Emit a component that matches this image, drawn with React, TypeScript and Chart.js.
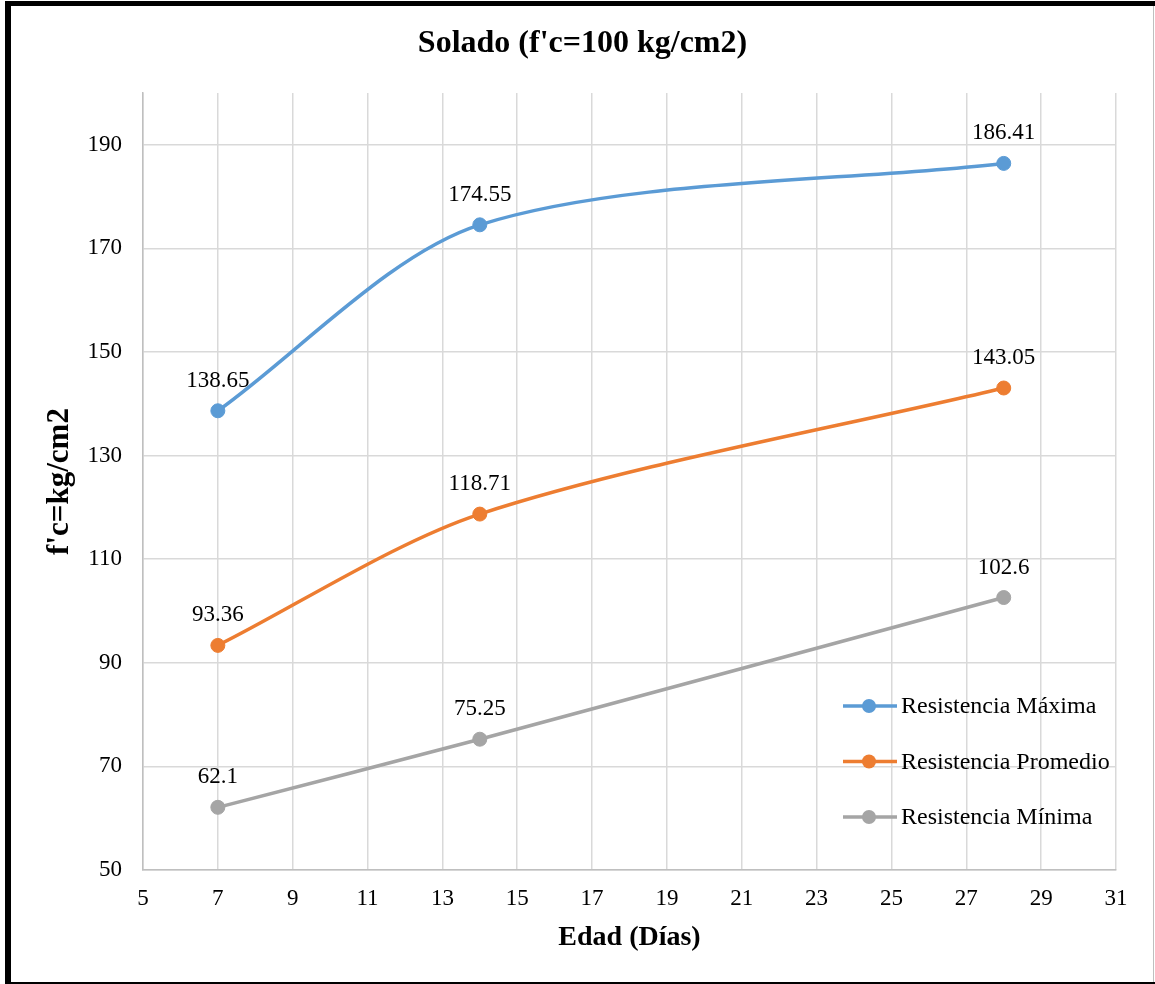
import React, { useEffect, useRef } from "react";
import { Chart, registerables } from "chart.js";

Chart.register(...registerables);

// Ages (days) at which the cylinders were tested
const edades = [7, 14, 28];

// Compressive strength per series (kg/cm2)
const resistenciaMaxima = [138.65, 174.55, 186.41];
const resistenciaPromedio = [93.36, 118.71, 143.05];
const resistenciaMinima = [62.1, 75.25, 102.6];

const seriesNames = ["Resistencia Máxima", "Resistencia Promedio", "Resistencia Mínima"];
const seriesColors = ["#5B9BD5", "#ED7D31", "#A5A5A5"];

// Axis ticks
const yTickValues = [50, 70, 90, 110, 130, 150, 170, 190];
const xTickValues = [5, 7, 9, 11, 13, 15, 17, 19, 21, 23, 25, 27, 29, 31];

const chartTitle = "Solado (f'c=100 kg/cm2)";
const xAxisTitle = "Edad (Días)";
const yAxisTitle = "f'c=kg/cm2";

const FONT = "'Liberation Serif', 'Times New Roman', serif";

const overlayPlugin = {
  id: "overlay",
  afterDatasetsDraw(chart: any) {
    const ctx = chart.ctx;
    ctx.save();
    ctx.font = `23px ${FONT}`;
    ctx.fillStyle = "#000";
    ctx.textAlign = "center";
    ctx.textBaseline = "alphabetic";
    chart.data.datasets.forEach((ds: any, i: number) => {
      const meta = chart.getDatasetMeta(i);
      meta.data.forEach((pt: any, j: number) => {
        ctx.fillText(String(ds.data[j].y), pt.x, pt.y - 24);
      });
    });
    ctx.restore();
  },
  afterDraw(chart: any) {
    const ctx = chart.ctx;
    const area = chart.chartArea;
    const W = chart.width;
    const H = chart.height;
    ctx.save();

    // Frame
    ctx.fillStyle = "#000";
    ctx.fillRect(5, 1, W - 5, 5);
    ctx.fillRect(5, 1, 6, H - 1);
    ctx.fillRect(5, H - 2, W - 5, 2);
    ctx.fillStyle = "#BFBFBF";
    ctx.fillRect(W - 2, 6, 1, H - 8);

    // Title
    ctx.fillStyle = "#000";
    ctx.textAlign = "center";
    ctx.textBaseline = "alphabetic";
    ctx.font = `bold 32px ${FONT}`;
    ctx.fillText(chartTitle, W / 2 + 5, 52);

    // Axis titles
    ctx.font = `bold 28px ${FONT}`;
    ctx.fillText(xAxisTitle, (area.left + area.right) / 2, 945);
    ctx.save();
    ctx.translate(68, (area.top + area.bottom) / 2);
    ctx.rotate(-Math.PI / 2);
    ctx.font = `bold 31px ${FONT}`;
    ctx.fillText(yAxisTitle, 0, 0);
    ctx.restore();

    // Legend inside the plot area
    const lx = area.right - 273;
    const ly = area.top + 613;
    ctx.font = `24px ${FONT}`;
    ctx.textAlign = "left";
    ctx.textBaseline = "middle";
    seriesNames.forEach((name, i) => {
      const y = ly + i * 55.5;
      ctx.strokeStyle = seriesColors[i];
      ctx.lineWidth = 3.5;
      ctx.beginPath();
      ctx.moveTo(lx, y);
      ctx.lineTo(lx + 54, y);
      ctx.stroke();
      ctx.fillStyle = seriesColors[i];
      ctx.beginPath();
      ctx.arc(lx + 26, y, 7, 0, Math.PI * 2);
      ctx.fill();
      ctx.fillStyle = "#000";
      ctx.fillText(name, lx + 58, y + 1);
    });
    ctx.restore();
  },
};

export default function App() {
  const canvasRef = useRef<HTMLCanvasElement | null>(null);

  useEffect(() => {
    document.body.style.margin = "0";
    const canvas = canvasRef.current;
    if (!canvas) return;

    const seriesValues = [resistenciaMaxima, resistenciaPromedio, resistenciaMinima];
    const datasets = seriesValues.map((vals, i) => ({
      label: seriesNames[i],
      data: edades.map((x, j) => ({ x, y: vals[j] })),
      borderColor: seriesColors[i],
      backgroundColor: seriesColors[i],
      pointBackgroundColor: seriesColors[i],
      pointBorderColor: seriesColors[i],
      pointRadius: 7,
      pointBorderWidth: 1,
      borderWidth: 3.5,
      tension: 0.3,
      fill: false,
    }));

    const chart = new Chart(canvas, {
      type: "line",
      data: { datasets },
      options: {
        animation: false,
        responsive: false,
        devicePixelRatio: 1,
        layout: { padding: { top: 93, right: 39, left: 0, bottom: 0 } },
        plugins: {
          legend: { display: false },
          title: { display: false },
          tooltip: { enabled: false },
        },
        scales: {
          x: {
            type: "linear",
            min: 5,
            max: 31,
            afterBuildTicks: (scale: any) => {
              scale.ticks = xTickValues.map((v) => ({ value: v }));
            },
            afterFit: (scale: any) => {
              scale.height = 114;
            },
            ticks: {
              color: "#000",
              font: { family: FONT, size: 23 },
              padding: 15,
              maxRotation: 0,
              autoSkip: false,
            },
            grid: { color: "#D9D9D9", lineWidth: 1.5, drawTicks: false },
            border: { color: "#BFBFBF", width: 1.5 },
          },
          y: {
            type: "linear",
            min: 50,
            max: 200,
            afterBuildTicks: (scale: any) => {
              scale.ticks = yTickValues.map((v) => ({ value: v }));
            },
            afterFit: (scale: any) => {
              scale.width = 143;
            },
            ticks: {
              color: "#000",
              font: { family: FONT, size: 23 },
              padding: 21,
              autoSkip: false,
            },
            grid: { color: "#D9D9D9", lineWidth: 1.5, drawTicks: false },
            border: { color: "#BFBFBF", width: 1.5 },
          },
        },
      },
      plugins: [overlayPlugin],
    });

    return () => chart.destroy();
  }, []);

  return (
    <div style={{ width: 1155, height: 984, background: "#fff" }}>
      <canvas ref={canvasRef} width={1155} height={984} style={{ display: "block" }} />
    </div>
  );
}
